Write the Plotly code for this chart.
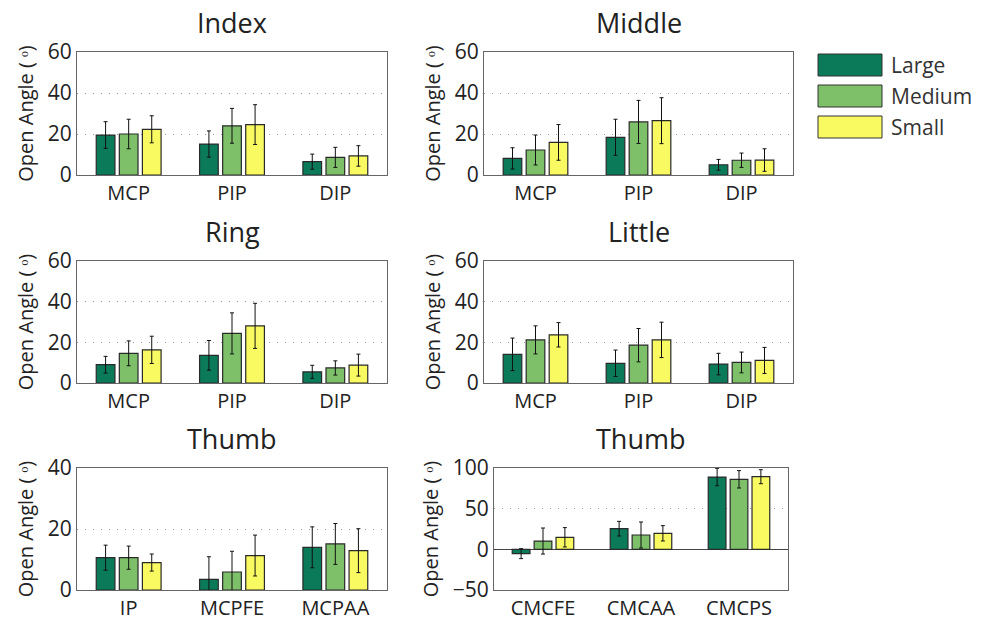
import plotly.graph_objects as go

series_names = ["Large", "Medium", "Small"]
series_colors = ["#0a7a58", "#7dc069", "#f9f962"]

finger_joints = ["MCP", "PIP", "DIP"]
thumb_joints_a = ["IP", "MCPFE", "MCPAA"]
thumb_joints_b = ["CMCFE", "CMCAA", "CMCPS"]

index_large = [19.5, 15.1, 6.5]
index_medium = [20.0, 24.0, 8.6]
index_small = [22.3, 24.6, 9.3]
index_err_large = [6.5, 6.4, 3.7]
index_err_medium = [7.2, 8.5, 4.9]
index_err_small = [6.6, 9.7, 5.0]

middle_large = [8.1, 18.4, 5.0]
middle_medium = [12.2, 25.9, 7.2]
middle_small = [15.9, 26.5, 7.3]
middle_err_large = [5.2, 8.8, 2.6]
middle_err_medium = [7.3, 10.5, 3.5]
middle_err_small = [8.7, 11.2, 5.5]

ring_large = [9.0, 13.6, 5.5]
ring_medium = [14.6, 24.4, 7.4]
ring_small = [16.3, 28.1, 8.8]
ring_err_large = [4.1, 7.3, 3.2]
ring_err_medium = [6.1, 10.1, 3.5]
ring_err_small = [6.7, 11.1, 5.4]

little_large = [14.1, 9.7, 9.3]
little_medium = [21.2, 18.6, 10.1]
little_small = [23.7, 21.2, 11.1]
little_err_large = [8.0, 6.5, 5.3]
little_err_medium = [6.9, 8.2, 5.1]
little_err_small = [6.0, 8.7, 6.4]

thumb_a_large = [10.6, 3.5, 14.0]
thumb_a_medium = [10.6, 5.9, 15.1]
thumb_a_small = [9.0, 11.3, 12.9]
thumb_a_err_large = [4.1, 7.4, 6.7]
thumb_a_err_medium = [3.8, 6.8, 6.7]
thumb_a_err_small = [2.8, 6.7, 7.2]

thumb_b_large = [-5.3, 25.4, 88.9]
thumb_b_medium = [10.2, 17.6, 86.1]
thumb_b_small = [14.8, 19.7, 89.3]
thumb_b_err_large = [6.1, 9.0, 10.7]
thumb_b_err_medium = [16.0, 16.0, 10.7]
thumb_b_err_small = [11.9, 9.4, 8.6]

y_title = "Open Angle ( \u1d52)"

W, H = 984, 626
FONT = "Open Sans"
TXT = "#222222"

panels = [
    ("Index", finger_joints, [index_large, index_medium, index_small],
     [index_err_large, index_err_medium, index_err_small], [0, 60], 20, (77, 387), (52, 175)),
    ("Middle", finger_joints, [middle_large, middle_medium, middle_small],
     [middle_err_large, middle_err_medium, middle_err_small], [0, 60], 20, (484, 793), (52, 175)),
    ("Ring", finger_joints, [ring_large, ring_medium, ring_small],
     [ring_err_large, ring_err_medium, ring_err_small], [0, 60], 20, (77, 387), (261, 383)),
    ("Little", finger_joints, [little_large, little_medium, little_small],
     [little_err_large, little_err_medium, little_err_small], [0, 60], 20, (484, 793), (261, 383)),
    ("Thumb", thumb_joints_a, [thumb_a_large, thumb_a_medium, thumb_a_small],
     [thumb_a_err_large, thumb_a_err_medium, thumb_a_err_small], [0, 40], 20, (77, 387), (468, 590)),
    ("Thumb", thumb_joints_b, [thumb_b_large, thumb_b_medium, thumb_b_small],
     [thumb_b_err_large, thumb_b_err_medium, thumb_b_err_small], [-50, 100], 50, (494, 788), (468, 590)),
]

fig = go.Figure()
layout = dict(
    template="none",
    width=W, height=H, autosize=False,
    margin=dict(l=0, r=0, t=0, b=0, pad=0),
    paper_bgcolor="white", plot_bgcolor="white",
    barmode="group", bargap=0.33, bargroupgap=0.19,
    showlegend=False,
    font=dict(family=FONT, size=19, color=TXT),
    annotations=[], shapes=[],
)

for i, (title, cats, vals, errs, yr, dt, (x0, x1), (y0, y1)) in enumerate(panels):
    n = "" if i == 0 else str(i + 1)
    xa, ya = "x" + n, "y" + n
    for name, color, v, e in zip(series_names, series_colors, vals, errs):
        fig.add_trace(go.Bar(
            x=cats, y=v, name=name, xaxis=xa, yaxis=ya,
            marker=dict(color=color, line=dict(color="#2a2a2a", width=1.2)),
            error_y=dict(type="data", array=e, visible=True, color="#111111", thickness=1, width=2),
        ))
    layout["xaxis" + n] = dict(
        domain=[x0 / W, x1 / W], anchor=ya, type="category", range=[-0.5, 2.5],
        showline=True, linecolor="#666666", linewidth=1, mirror=True,
        showgrid=False, zeroline=False, ticks="", automargin=False,
        tickfont=dict(size=20, color=TXT, family=FONT),
        fixedrange=True,
    )
    layout["yaxis" + n] = dict(
        domain=[1 - y1 / H, 1 - y0 / H], anchor=xa, range=yr, dtick=dt, tick0=0,
        showline=True, linecolor="#666666", linewidth=1, mirror=True,
        showgrid=True, gridcolor="#999999", griddash="1px,7px", gridwidth=1,
        zeroline=(yr[0] < 0), zerolinecolor="#444444", zerolinewidth=1,
        ticks="", automargin=False,
        tickfont=dict(size=21, color=TXT, family=FONT),
        title=dict(text=y_title, font=dict(size=20, color=TXT, family=FONT), standoff=8),
        fixedrange=True,
    )
    layout["annotations"].append(dict(
        text=title, x=(x0 + x1) / 2 / W, y=1 - (y0 - 29) / H, xref="paper", yref="paper",
        xanchor="center", yanchor="middle", showarrow=False,
        font=dict(size=27, color=TXT, family=FONT),
    ))

leg_x0, leg_x1 = 818, 882
leg_tops = [54, 85, 116]
for name, color, top in zip(series_names, series_colors, leg_tops):
    layout["shapes"].append(dict(
        type="rect", xref="paper", yref="paper",
        x0=leg_x0 / W, x1=leg_x1 / W, y0=1 - (top + 22) / H, y1=1 - top / H,
        fillcolor=color, line=dict(color="#333333", width=1),
    ))
    layout["annotations"].append(dict(
        text=name, x=(leg_x1 + 7) / W, y=1 - (top + 11) / H, xref="paper", yref="paper",
        xanchor="left", yanchor="middle", showarrow=False,
        font=dict(size=21, color="#333333", family=FONT),
    ))

fig.update_layout(**layout)
fig.write_html("out.html", config={"displayModeBar": False},
               post_script="document.body.style.margin='0';")
